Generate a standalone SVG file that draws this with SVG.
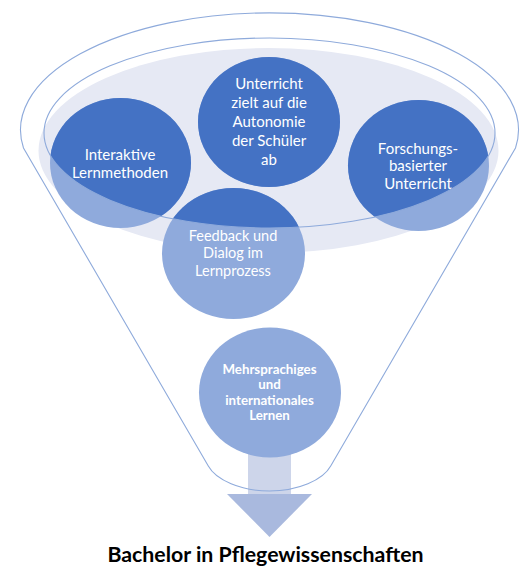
<svg xmlns="http://www.w3.org/2000/svg" width="532" height="575" viewBox="0 0 532 575">
<style>
.light{fill:#8faadc}
.dark{fill:#4472c4}
.outline{fill:none;stroke:#8eaadb;stroke-width:1.1}
.lbl{font-family:Lato,"Open Sans","Liberation Sans",sans-serif;font-size:15px;fill:#ffffff;text-anchor:middle}
.small{font-size:14.5px}
.bold{font-weight:bold;font-size:13.3px}
.title{font-family:Lato,"Open Sans","Liberation Sans",sans-serif;font-size:21.3px;font-weight:bold;fill:#000000;text-anchor:middle}
</style>
<defs>
<clipPath id="innerClip"><ellipse cx="269.5" cy="133" rx="225.5" ry="95"/></clipPath>
</defs>
<rect width="532" height="575" fill="#ffffff"/>
<g id="funnel-back">
<ellipse cx="268.5" cy="150.5" rx="230" ry="102.5" fill="#e6e9f4"/>
</g>
<g id="connectors">
<rect x="248" y="440" width="43" height="54" fill="#cdd5ea"/>
<polygon points="227,494 312,494 269.5,537" fill="#a9b9de"/>
</g>
<g id="node-interaktive">
<ellipse class="light" cx="120.5" cy="163" rx="70.5" ry="65"/>
<ellipse class="dark" cx="120.5" cy="163" rx="70.5" ry="65" clip-path="url(#innerClip)"/>
<text class="lbl" x="120" y="159.5">Interaktive</text>
<text class="lbl" x="120" y="178">Lernmethoden</text>
</g>
<g id="node-unterricht">
<ellipse class="light" cx="269" cy="122" rx="71" ry="65"/>
<ellipse class="dark" cx="269" cy="122" rx="71" ry="65" clip-path="url(#innerClip)"/>
<text class="lbl" x="269" y="89">Unterricht</text>
<text class="lbl" x="269" y="108">zielt auf die</text>
<text class="lbl" x="269" y="127">Autonomie</text>
<text class="lbl" x="269" y="146">der Schüler</text>
<text class="lbl" x="269" y="165">ab</text>
</g>
<g id="node-forschung">
<ellipse class="light" cx="418.5" cy="165.5" rx="70.5" ry="65.5"/>
<ellipse class="dark" cx="418.5" cy="165.5" rx="70.5" ry="65.5" clip-path="url(#innerClip)"/>
<text class="lbl" x="418" y="153.5">Forschungs-</text>
<text class="lbl" x="418" y="171">basierter</text>
<text class="lbl" x="418" y="188.5">Unterricht</text>
</g>
<g id="node-feedback">
<ellipse class="light" cx="233.5" cy="253.5" rx="71.5" ry="65.5"/>
<ellipse class="dark" cx="233.5" cy="253.5" rx="71.5" ry="65.5" clip-path="url(#innerClip)"/>
<text class="lbl small" x="233" y="240.5">Feedback und</text>
<text class="lbl small" x="233" y="258">Dialog im</text>
<text class="lbl small" x="233" y="275.5">Lernprozess</text>
</g>
<g id="node-mehrsprachig">
<ellipse class="light" cx="270" cy="392.5" rx="71" ry="65"/>
<text class="lbl bold" x="269.5" y="373.5">Mehrsprachiges</text>
<text class="lbl bold" x="269.5" y="389">und</text>
<text class="lbl bold" x="269.5" y="404.5">internationales</text>
<text class="lbl bold" x="269.5" y="420">Lernen</text>
</g>
<g id="funnel-outline">
<ellipse class="outline" cx="269.5" cy="133" rx="225.5" ry="95"/>
<path class="outline" d="M 23.5 148 A 249 117 0 1 1 515.5 148 L 330.7 466 C 323 480 298 491 269.5 491 C 241 491 216 480 208.3 466 Z"/>
</g>
<g id="node-title">
<text class="title" x="265.5" y="562">Bachelor in Pflegewissenschaften</text>
</g>
</svg>
